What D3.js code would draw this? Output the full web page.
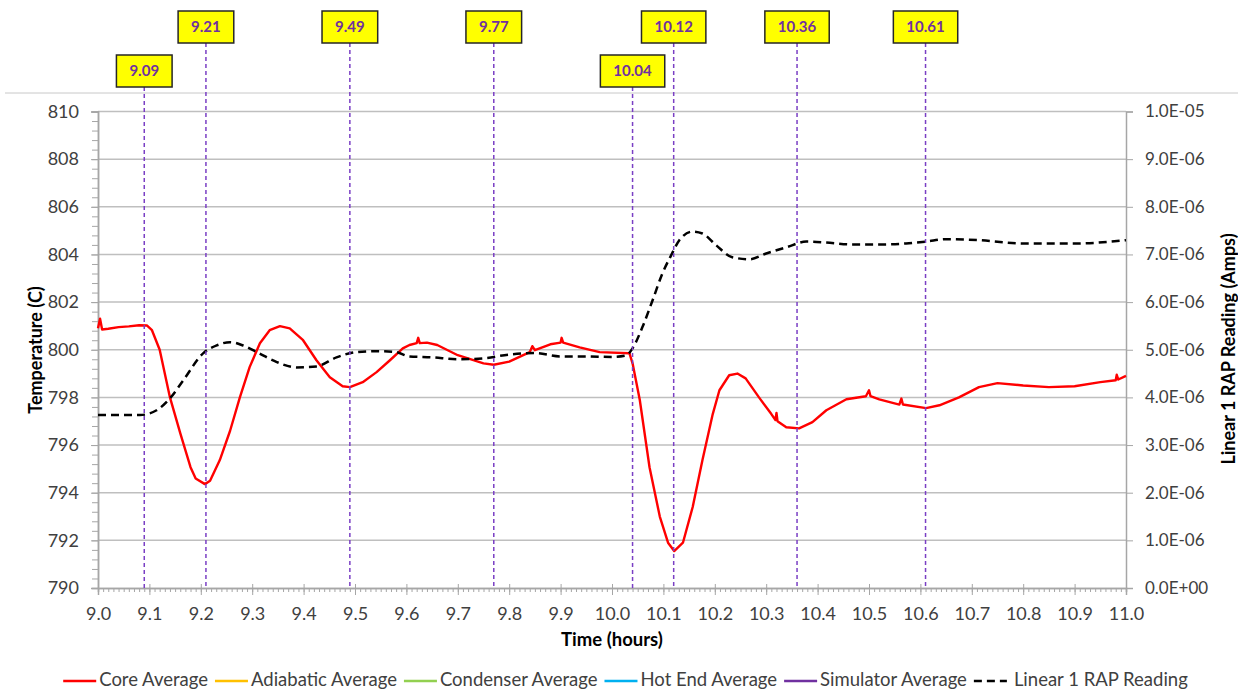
<!DOCTYPE html>
<html>
<head>
<meta charset="utf-8">
<script src="https://cdn.jsdelivr.net/npm/d3@7"></script>
<style>
  body { margin: 0; background: #fff; }
  svg { display: block; font-family: Lato, "Open Sans", sans-serif; }
</style>
</head>
<body>
<div id="chart"></div>
<script>
// core average temperature (C) vs time (hours)
var coreTime = [9.000, 9.004, 9.008, 9.02, 9.04, 9.06, 9.08, 9.095, 9.105, 9.12, 9.14, 9.16, 9.18, 9.19, 9.208, 9.218,
  9.237, 9.257, 9.276, 9.295, 9.315, 9.334, 9.354, 9.373, 9.399, 9.425, 9.451, 9.476, 9.49, 9.515, 9.542, 9.568,
  9.593, 9.606, 9.62, 9.623, 9.626, 9.64, 9.66, 9.7, 9.75, 9.77, 9.8, 9.84, 9.845, 9.85, 9.88, 9.9, 9.902, 9.905,
  9.937, 9.976, 10.034, 10.04, 10.054, 10.073, 10.093, 10.109, 10.121, 10.138, 10.157, 10.176, 10.196, 10.209,
  10.228, 10.244, 10.26, 10.286, 10.31, 10.318, 10.32, 10.322, 10.339, 10.364, 10.39, 10.417, 10.456, 10.494, 10.5,
  10.503, 10.52, 10.559, 10.563, 10.566, 10.611, 10.637, 10.675, 10.714, 10.75, 10.8, 10.85, 10.9, 10.95, 10.98,
  10.982, 10.985, 11.0];
var coreTemp = [800.9, 801.3, 800.85, 800.88, 800.95, 800.98, 801.03, 801.02, 800.82, 800.0, 798.0, 796.5, 795.07, 794.6, 794.36, 794.5,
  795.37, 796.6, 798.0, 799.27, 800.27, 800.82, 800.99, 800.9, 800.4, 799.56, 798.85, 798.47, 798.43, 798.64, 799.06, 799.56,
  800.06, 800.2, 800.28, 800.5, 800.28, 800.3, 800.2, 799.77, 799.43, 799.37, 799.5, 799.9, 800.15, 799.98, 800.23, 800.3, 800.5, 800.3,
  800.1, 799.9, 799.85, 799.43, 797.9, 795.07, 793.0, 791.9, 791.55, 791.9, 793.4, 795.37, 797.3, 798.3,
  798.93, 799.0, 798.8, 798.0, 797.3, 797.05, 797.35, 797.0, 796.75, 796.7, 796.96, 797.46, 797.92, 798.05, 798.3,
  798.05, 797.92, 797.7, 797.95, 797.7, 797.55, 797.67, 798.0, 798.43, 798.6, 798.5, 798.43, 798.47, 798.64, 798.72,
  798.95, 798.75, 798.9];

// Linear 1 RAP reading (amps, x1e-6)
var rapTime = [9.0, 9.082, 9.114, 9.14, 9.166, 9.205, 9.231, 9.257, 9.282, 9.309, 9.348, 9.386, 9.425, 9.464, 9.503,
  9.542, 9.58, 9.606, 9.65, 9.7, 9.75, 9.8, 9.85, 9.9, 9.95, 10.0, 10.027, 10.04, 10.059, 10.079, 10.098, 10.115,
  10.131, 10.157, 10.176, 10.203, 10.234, 10.268, 10.3, 10.339, 10.378, 10.417, 10.468, 10.52, 10.572, 10.611,
  10.65, 10.714, 10.8, 10.9, 11.0];
var rapMicroAmps = [3.63, 3.63, 3.73, 3.98, 4.36, 4.93, 5.09, 5.16, 5.09, 4.95, 4.74, 4.63, 4.65, 4.84, 4.95,
  4.97, 4.95, 4.86, 4.84, 4.80, 4.82, 4.9, 4.93, 4.86, 4.86, 4.85, 4.88, 5.03, 5.47, 6.04, 6.6, 6.98,
  7.30, 7.48, 7.44, 7.19, 6.94, 6.9, 7.02, 7.15, 7.27, 7.25, 7.21, 7.21, 7.23, 7.27,
  7.32, 7.30, 7.23, 7.23, 7.3];

// event markers (row 0 = top row of boxes, row 1 = lower row)
var eventTimes = [9.09, 9.21, 9.49, 9.77, 10.04, 10.12, 10.36, 10.61];
var eventRows = [1, 0, 0, 0, 1, 0, 0, 0];

var legendNames = ["Core Average", "Adiabatic Average", "Condenser Average", "Hot End Average", "Simulator Average", "Linear 1 RAP Reading"];
var legendColors = ["#ff0000", "#ffc000", "#92d050", "#00b0f0", "#7030a0", "#000000"];

var w = 1238, h = 691;
var plotLeft = 98, plotRight = 1126, plotTop = 111.5, plotBottom = 588;

var svg = d3.select("#chart").append("svg").attr("width", w).attr("height", h);

var x = d3.scaleLinear().domain([9, 11]).range([plotLeft, plotRight]);
var yL = d3.scaleLinear().domain([790, 810]).range([plotBottom, plotTop]);
var yR = d3.scaleLinear().domain([0, 10]).range([plotBottom, plotTop]);

// outer border line at top
svg.append("line").attr("x1", 5).attr("x2", w).attr("y1", 93).attr("y2", 93)
  .attr("stroke", "#c8c8c8").attr("stroke-width", 1);

// gridlines
svg.append("g").selectAll("line")
  .data(d3.range(792, 810.1, 2))
  .enter().append("line")
  .attr("x1", plotLeft).attr("x2", plotRight)
  .attr("y1", function(d){ return yL(d); }).attr("y2", function(d){ return yL(d); })
  .attr("stroke", "#bfbfbf").attr("stroke-width", 1.5);

var axisColor = "#a6a6a6";
var labelColor = "#404040";

// left axis
var gL = svg.append("g").attr("transform", "translate(" + plotLeft + ",0)");
gL.call(d3.axisLeft(yL).tickValues(d3.range(790, 810.01, 0.4)).tickSize(6).tickFormat(""));
gL.append("g").call(d3.axisLeft(yL).tickValues(d3.range(790, 810.1, 2)).tickSize(7).tickPadding(12).tickFormat(d3.format("d")));
gL.selectAll(".domain").attr("stroke", axisColor).attr("stroke-width", 1.5);
gL.selectAll("line").attr("stroke", axisColor).attr("stroke-width", 1);
gL.selectAll("text").attr("font-size", 18).attr("fill", labelColor).attr("font-family", "Lato");

// right axis
var gR = svg.append("g").attr("transform", "translate(" + plotRight + ",0)");
gR.call(d3.axisRight(yR).tickValues(d3.range(0, 10.01, 1)).tickSize(7).tickPadding(12)
  .tickFormat(function(d){
    if (d === 0) return "0.0E+00";
    var e = d3.format(".1e")(d * 1e-6).split("e");
    var exp = +e[1];
    return e[0] + "E" + (exp < 0 ? "-" : "+") + d3.format("02d")(Math.abs(exp));
  }));
gR.selectAll(".domain").attr("stroke", axisColor).attr("stroke-width", 1.5);
gR.selectAll("line").attr("stroke", axisColor).attr("stroke-width", 1);
gR.selectAll("text").attr("font-size", 17).attr("fill", labelColor).attr("font-family", "Lato");

// bottom axis
var gB = svg.append("g").attr("transform", "translate(0," + plotBottom + ")");
gB.call(d3.axisBottom(x).tickValues(d3.range(9, 11.001, 0.01)).tickSize(4).tickFormat(""));
var gB2 = gB.append("g").call(d3.axisBottom(x).tickValues(d3.range(9, 11.01, 0.1)).tickSize(7).tickPadding(12).tickFormat(d3.format(".1f")));
gB2.selectAll(".tick line").attr("y1", -4);
gB.selectAll(".domain").attr("stroke", axisColor).attr("stroke-width", 1.5);
gB.selectAll("line").attr("stroke", axisColor).attr("stroke-width", 1);
gB.selectAll("text").attr("font-size", 18).attr("fill", labelColor).attr("font-family", "Lato");

// axis titles
svg.append("text").attr("transform", "translate(42,350) rotate(-90)")
  .attr("text-anchor", "middle").attr("font-weight", "bold").attr("font-size", 18).text("Temperature (C)");
svg.append("text").attr("x", (plotLeft + plotRight) / 2).attr("y", 646)
  .attr("text-anchor", "middle").attr("font-weight", "bold").attr("font-size", 18.5).text("Time (hours)");
svg.append("text").attr("transform", "translate(1235,349) rotate(-90)")
  .attr("text-anchor", "middle").attr("font-weight", "bold").attr("font-size", 18).text("Linear 1 RAP Reading (Amps)");

// data lines
var coreLine = d3.line()
  .x(function(d){ return x(d[0]); })
  .y(function(d){ return yL(d[1]); });
svg.append("path")
  .datum(d3.zip(coreTime, coreTemp))
  .attr("d", coreLine)
  .attr("fill", "none").attr("stroke", "#ff0000").attr("stroke-width", 2.4).attr("stroke-linejoin", "round");

var rapLine = d3.line()
  .curve(d3.curveMonotoneX)
  .x(function(d){ return x(d[0]); })
  .y(function(d){ return yR(d[1]); });
svg.append("path")
  .datum(d3.zip(rapTime, rapMicroAmps))
  .attr("d", rapLine)
  .attr("fill", "none").attr("stroke", "#000").attr("stroke-width", 2.5).attr("stroke-dasharray", "8,5");

// event markers
var boxTop = [11, 55], boxH = 32;
var ev = svg.append("g").selectAll("g")
  .data(d3.zip(eventTimes, eventRows))
  .enter().append("g");
ev.append("line")
  .attr("x1", function(d){ return x(d[0]); }).attr("x2", function(d){ return x(d[0]); })
  .attr("y1", function(d){ return boxTop[d[1]] + boxH; }).attr("y2", plotBottom)
  .attr("stroke", "#7a3fc4").attr("stroke-width", 1.5).attr("stroke-dasharray", "4,3");
ev.append("text")
  .attr("x", function(d){ return x(d[0]); })
  .attr("y", function(d){ return boxTop[d[1]] + boxH / 2 + 5; })
  .attr("text-anchor", "middle").attr("font-weight", "bold").attr("font-size", 15).attr("fill", "#7030a0")
  .text(function(d){ return d3.format(".2f")(d[0]); });
ev.each(function(d){
  var g = d3.select(this);
  var tw = g.select("text").node().getComputedTextLength() + 26;
  g.insert("rect", "text")
    .attr("x", x(d[0]) - tw / 2).attr("y", boxTop[d[1]])
    .attr("width", tw).attr("height", boxH)
    .attr("fill", "#ffff00").attr("stroke", "#262626").attr("stroke-width", 1.5);
});

// legend
var leg = svg.append("g");
var cx = 0;
legendNames.forEach(function(name, i){
  var item = leg.append("g").attr("transform", "translate(" + cx + ",0)");
  item.append("line").attr("x1", 0).attr("x2", 33).attr("y1", 681).attr("y2", 681)
    .attr("stroke", legendColors[i]).attr("stroke-width", 2.5)
    .attr("stroke-dasharray", i === 5 ? "8,5" : null);
  var t = item.append("text").attr("x", i === 5 ? 40 : 36).attr("y", 686).attr("font-size", 18.5).attr("fill", labelColor).text(name);
  cx += (i === 5 ? 40 : 36) + t.node().getComputedTextLength() + 7;
});
leg.attr("transform", "translate(" + (629 - cx / 2) + ",0)");
</script>
</body>
</html>
